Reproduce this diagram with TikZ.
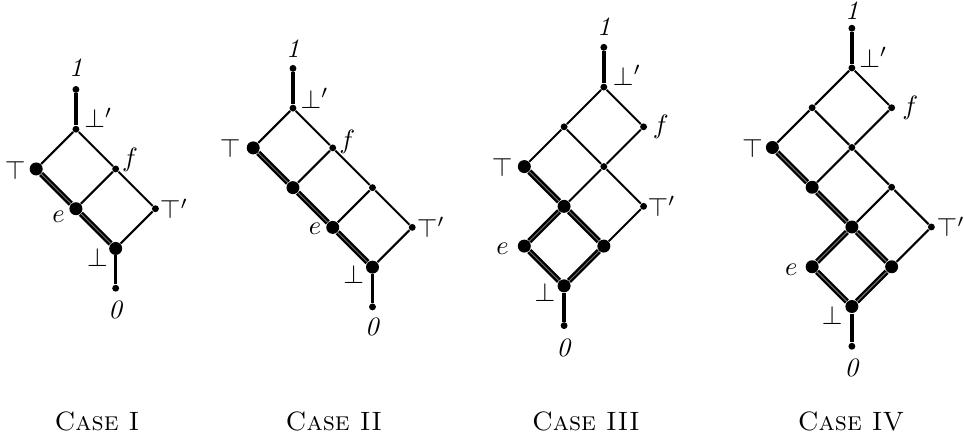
\documentclass[tikz,border=0pt]{standalone}
\usepackage{amsmath,amssymb}
\usetikzlibrary{positioning}

\begin{document}
\begin{tikzpicture}[x=.527cm,y=.527cm,
    pt/.style={circle,fill,inner sep=0pt,minimum size=2.6pt},
    bigpt/.style={circle,fill,inner sep=0pt,minimum size=4.9pt},
    edge/.style={line width=.75pt},
    stem/.style={line width=1.3pt},
    chain/.style={line width=.9pt,double=black!55,double distance=.35pt},
    lp/.style={anchor=center,label distance=#1}]
    \useasboundingbox (0,0) rectangle (24.25,-11.195);

  \begin{scope}[shift={(1.91,-3.25)}]
    \node[pt,label={[lp=6.8pt]90:\textit{1}}] (one1) at (0,1) {};
    \node[pt,label={[lp=8pt]27:$\bot'$}] (bt1) at (0,0) {};
    \node[bigpt,label={[lp=5.3pt]183:$\top$}] (tp1) at (-1,-1) {};
    \node[pt,label={[lp=4.9pt]32:$f$}] (f1) at (1,-1) {};
    \node[bigpt,label={[lp=4.6pt]205:$e$}] (e1) at (0,-2) {};
    \node[pt,label={[lp=5.5pt]0:$\top'$}] (tq1) at (2,-2) {};
    \node[bigpt,label={[lp=5.1pt]207:$\bot$}] (bo1) at (1,-3) {};
    \node[pt,label={[lp=6.6pt]270:\textit{0}}] (z1) at (1,-4) {};

    \draw[stem] (one1) -- (bt1) (bo1) -- (z1);
    \draw[edge] (bt1) -- (tp1) (bt1) -- (f1) -- (tq1) -- (bo1) (f1) -- (e1);
    \draw[chain] (tp1) -- (e1) -- (bo1);
  \end{scope}

  \begin{scope}[shift={(7.37,-2.72)}]
    \node[pt,label={[lp=5.9pt]90:\textit{1}}] (one2) at (0,1) {};
    \node[pt,label={[lp=7.5pt]25:$\bot'$}] (bt2) at (0,0) {};
    \node[bigpt,label={[lp=6pt]180:$\top$}] (tp2) at (-1,-1) {};
    \node[pt,label={[lp=4.5pt]24:$f$}] (f2) at (1,-1) {};
    \node[bigpt] (m2) at (0,-2) {};
    \node[pt] (g2) at (2,-2) {};
    \node[bigpt,label={[lp=4pt]185:$e$}] (e2) at (1,-3) {};
    \node[pt,label={[lp=5.5pt]0:$\top'$}] (tq2) at (3,-3) {};
    \node[bigpt,label={[lp=5pt]202:$\bot$}] (bo2) at (2,-4) {};
    \node[pt,label={[lp=6pt]270:\textit{0}}] (z2) at (2,-5) {};

    \draw[stem] (one2) -- (bt2) (bo2) -- (z2);
    \draw[edge] (bt2) -- (tp2) (bt2) -- (f2) -- (g2) -- (tq2) -- (bo2)
      (f2) -- (m2) (g2) -- (e2);
    \draw[chain] (tp2) -- (m2) -- (e2) -- (bo2);
  \end{scope}

  \begin{scope}[shift={(15.19,-2.19)}]
    \node[pt,label={[lp=6.1pt]90:\textit{1}}] (one3) at (0,1) {};
    \node[pt,label={[lp=8.3pt]27:$\bot'$}] (bt3) at (0,0) {};
    \node[pt] (a3) at (-1,-1) {};
    \node[pt,label={[lp=5pt]0:$f$}] (f3) at (1,-1) {};
    \node[bigpt,label={[lp=5.7pt]183:$\top$}] (tp3) at (-2,-2) {};
    \node[pt] (b3) at (0,-2) {};
    \node[bigpt] (c3) at (-1,-3) {};
    \node[pt,label={[lp=5.3pt]0:$\top'$}] (tq3) at (1,-3) {};
    \node[bigpt,label={[lp=5.6pt]187:$e$}] (e3) at (-2,-4) {};
    \node[bigpt] (d3) at (0,-4) {};
    \node[bigpt,label={[lp=4.9pt]198:$\bot$}] (bo3) at (-1,-5) {};
    \node[pt,label={[lp=6.8pt]270:\textit{0}}] (z3) at (-1,-6) {};

    \draw[stem] (one3) -- (bt3) (bo3) -- (z3);
    \draw[edge] (bt3) -- (a3) -- (tp3) (bt3) -- (f3) -- (b3) -- (a3)
      (b3) -- (c3) (b3) -- (tq3) -- (d3);
    \draw[chain] (tp3) -- (c3) -- (d3) -- (bo3) (c3) -- (e3) -- (bo3);
  \end{scope}

  \begin{scope}[shift={(21.43,-1.71)}]
    \node[pt,label={[lp=5.1pt]90:\textit{1}}] (one4) at (0,1) {};
    \node[pt,label={[lp=7.6pt]27:$\bot'$}] (bt4) at (0,0) {};
    \node[pt] (a4) at (-1,-1) {};
    \node[pt,label={[lp=5.5pt]0:$f$}] (f4) at (1,-1) {};
    \node[bigpt,label={[lp=4.9pt]183:$\top$}] (tp4) at (-2,-2) {};
    \node[pt] (b4) at (0,-2) {};
    \node[bigpt] (c4) at (-1,-3) {};
    \node[pt] (g4) at (1,-3) {};
    \node[bigpt] (h4) at (0,-4) {};
    \node[pt,label={[lp=5.8pt]0:$\top'$}] (tq4) at (2,-4) {};
    \node[bigpt,label={[lp=5.3pt]189:$e$}] (e4) at (-1,-5) {};
    \node[bigpt] (k4) at (1,-5) {};
    \node[bigpt,label={[lp=5.4pt]203:$\bot$}] (bo4) at (0,-6) {};
    \node[pt,label={[lp=6.5pt]270:\textit{0}}] (z4) at (0,-7) {};

    \draw[stem] (one4) -- (bt4) (bo4) -- (z4);
    \draw[edge] (bt4) -- (a4) -- (tp4) (bt4) -- (f4) -- (b4) -- (a4)
      (b4) -- (c4) (b4) -- (g4) -- (h4) (g4) -- (tq4) -- (k4);
    \draw[chain] (tp4) -- (c4) -- (h4) -- (k4) -- (bo4) (h4) -- (e4) -- (bo4);
  \end{scope}

  \node (cs1) at (2.44,-10.59) {\textsc{Case I}};
  \node (cs2) at (8.40,-10.59) {\textsc{Case II}};
  \node (cs3) at (14.74,-10.59) {\textsc{Case III}};
  \node (cs4) at (21.41,-10.59) {\textsc{Case IV}};
\end{tikzpicture}
\end{document}
